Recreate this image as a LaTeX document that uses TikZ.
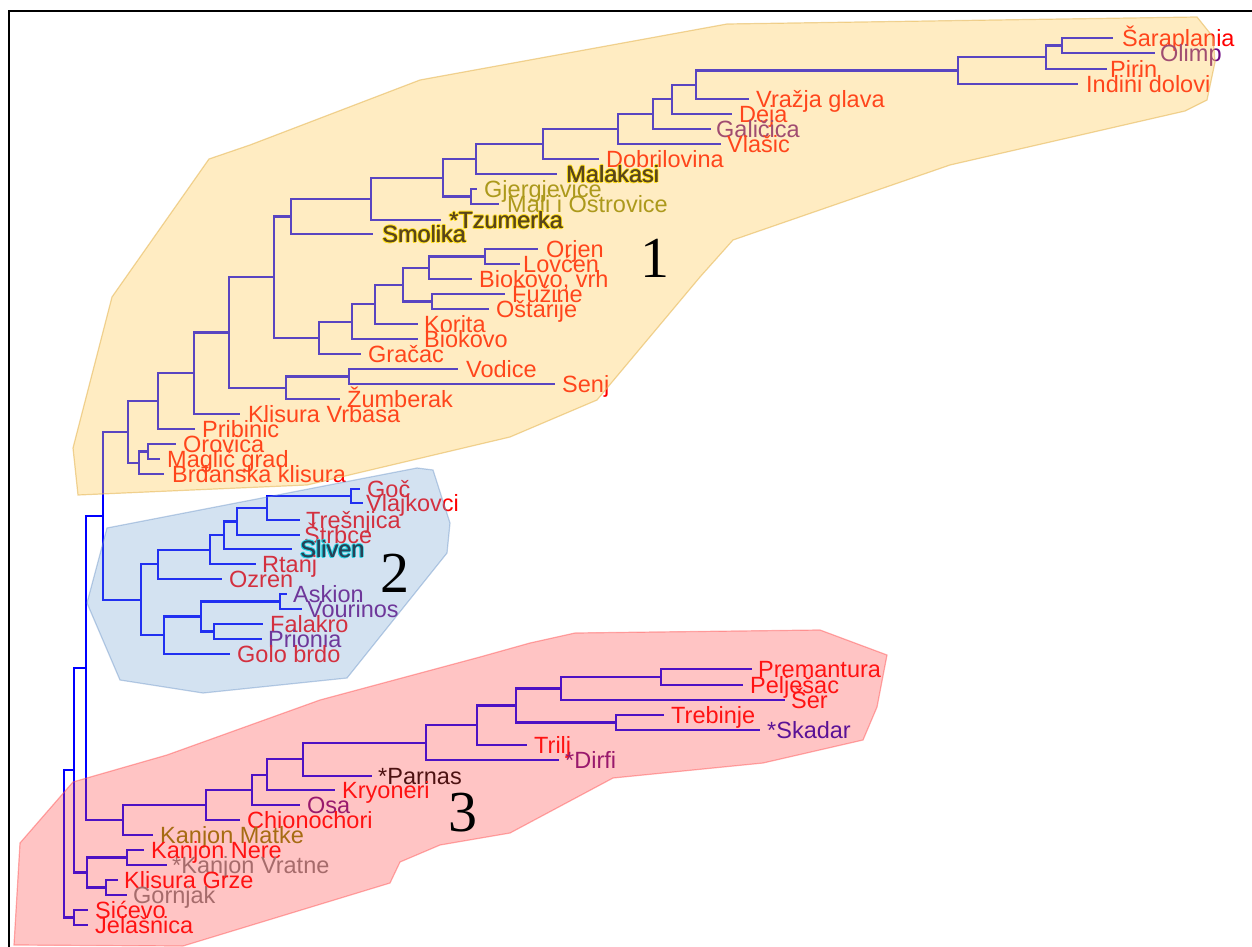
\documentclass[tikz,border=0pt]{standalone}
\usepackage{fontspec}
\setmainfont{Liberation Sans}
\newfontfamily\serifnum{Liberation Serif}
\usetikzlibrary{calc}
\definecolor{brblue}{RGB}{0,0,255}
\definecolor{cred}{RGB}{255,0,0}
\definecolor{cpur}{RGB}{110,10,130}
\definecolor{colive}{RGB}{128,128,0}
\definecolor{cgray}{RGB}{128,128,128}
\definecolor{cskad}{RGB}{20,0,190}
\definecolor{chy}{RGB}{255,235,0}
\definecolor{ccy}{RGB}{0,235,235}
\definecolor{cdark}{RGB}{10,25,35}
\definecolor{hy}{RGB}{255,200,80}
\definecolor{hyb}{RGB}{230,185,90}
\definecolor{hb}{RGB}{110,160,210}
\definecolor{hbb}{RGB}{110,150,200}
\definecolor{hr}{RGB}{255,60,60}
\definecolor{hrb}{RGB}{255,90,90}
\newcommand\leaf[6]{%
  \coordinate (#1) at (#2,#3);
  \node[lab,text=#5] (#1-l) at (#4,{#3+8.4}) {#6};}
\newcommand\haloleaf[7]{%
  \coordinate (#1) at (#2,#3);
  \foreach \dx/\dy [count=\k] in {-1.1/0,1.1/0,0/-1.1,0/1.1,-0.8/0.8,0.8/-0.8}{
    \node[lab,text=#5] (#1-h\k) at ({#4+\dx},{#3+8.4+\dy}) {#7};}
  \node[lab,text=#6] (#1-b) at ({#4+0.45},{#3+8.4}) {#7};
  \node[lab,text=#6] (#1-l) at (#4,{#3+8.4}) {#7};}
\newcommand\inode[3]{\coordinate (#1) at (#2,#3);}
\begin{document}
\begin{tikzpicture}[x=1pt,y=-1pt,
  br/.style={draw=brblue,line width=2.2pt},
  lab/.style={font=\fontsize{23.5}{24}\selectfont,inner sep=0pt,anchor=base west},
  bignum/.style={font=\serifnum\fontsize{58}{58}\selectfont,inner sep=0pt,text=black},
  hully/.style={fill=hy,fill opacity=0.35,draw=hyb,draw opacity=0.6,line width=1.2pt},
  hullb/.style={fill=hb,fill opacity=0.3,draw=hbb,draw opacity=0.45,line width=1.2pt},
  hullr/.style={fill=hr,fill opacity=0.3,draw=hrb,draw opacity=0.5,line width=1.2pt}]
\useasboundingbox (0,0) rectangle (1252,947);
% ---------- leaves: cluster 1
\leaf{sar}{1113}{38}{1122}{cred}{Šaraplania}
\leaf{oli}{1155}{53}{1160}{cpur}{Olimp}
\leaf{pir}{1107}{69}{1110}{cred}{Pirin}
\leaf{ind}{1078}{84}{1086}{cred}{Indini dolovi}
\leaf{vra}{749}{99}{756}{cred}{Vražja glava}
\leaf{dej}{732}{114}{739}{cred}{Deja}
\leaf{gal}{711}{129}{716}{cpur}{Galičica}
\leaf{vla}{721}{144}{727}{cred}{Vlašic}
\leaf{dob}{599}{159}{606}{cred}{Dobrilovina}
\haloleaf{mal}{557}{174}{566}{chy}{black}{Malakasi}
\leaf{gje}{477}{189}{484}{colive}{Gjergjevice}
\leaf{mali}{499}{204}{507}{colive}{Mali i Ostrovice}
\haloleaf{tzu}{441}{220}{449}{chy}{black}{*Tzumerka}
\haloleaf{smo}{373}{234}{382}{chy}{black}{Smolika}
\leaf{orj}{538}{249}{546}{cred}{Orjen}
\leaf{lov}{520}{264}{523}{cred}{Lovćen}
\leaf{bvr}{472}{279}{479}{cred}{Biokovo, vrh}
\leaf{fuz}{505}{294}{512}{cred}{Fužine}
\leaf{ost}{489}{309}{496}{cred}{Oštarije}
\leaf{kor}{418}{324}{424}{cred}{Korita}
\leaf{bio}{418}{339}{424}{cred}{Biokovo}
\leaf{gra}{361}{354}{368}{cred}{Gračac}
\leaf{vod}{458}{369}{466}{cred}{Vodice}
\leaf{sen}{555}{384}{562}{cred}{Senj}
\leaf{zum}{340}{399}{347}{cred}{Žumberak}
\leaf{kv}{240}{414}{248}{cred}{Klisura Vrbasa}
\leaf{pri}{195}{429}{202}{cred}{Pribinic}
\leaf{oro}{176}{444}{183}{cred}{Orovica}
\leaf{mag}{160}{459}{167}{cred}{Maglić grad}
\leaf{brd}{164}{474}{172}{cred}{Brđanska klisura}
% ---------- leaves: cluster 2
\leaf{goc}{360}{489}{367}{cred}{Goč}
\leaf{vlj}{363}{503}{366}{cred}{Vlajkovci}
\leaf{tre}{300}{520}{306}{cred}{Trešnjica}
\leaf{str}{300}{535}{304}{cred}{Štrbce}
\haloleaf{sli}{292}{549}{300}{ccy}{cdark}{Sliven}
\leaf{rta}{256}{564}{262}{cred}{Rtanj}
\leaf{ozr}{222}{579}{229}{cred}{Ozren}
\leaf{ask}{287}{594}{293}{cpur}{Askion}
\leaf{vou}{302}{609}{307}{cpur}{Vourinos}
\leaf{fal}{263}{624}{270}{cred}{Falakro}
\leaf{prio}{262}{639}{268}{cpur}{Prionia}
\leaf{gol}{230}{654}{237}{cred}{Golo brdo}
% ---------- leaves: cluster 3
\leaf{pre}{752}{669}{758}{cred}{Premantura}
\leaf{pel}{743}{685}{750}{cred}{Pelješac}
\leaf{ser}{785}{700}{791}{cred}{Šer}
\leaf{tre2}{664}{715}{671}{cred}{Trebinje}
\leaf{ska}{760}{730}{767}{cskad}{*Skadar}
\leaf{tri}{527}{745}{534}{cred}{Trilj}
\leaf{dir}{559}{760}{565}{cpur}{*Dirfi}
\leaf{par}{372}{776}{378}{black}{*Parnas}
\leaf{kry}{335}{790}{342}{cred}{Kryoneri}
\leaf{osa}{300}{805}{307}{cpur}{Osa}
\leaf{chi}{240}{820}{247}{cred}{Chionochori}
\leaf{km}{153}{835}{160}{colive}{Kanjon Matke}
\leaf{kn}{144}{850}{151}{cred}{Kanjon Nere}
\leaf{kvr}{167}{865}{172}{cgray}{*Kanjon Vratne}
\leaf{kg}{118}{880}{124}{cred}{Klisura Grze}
\leaf{gor}{127}{895}{133}{cgray}{Gornjak}
\leaf{sic}{88}{910}{95}{cred}{Sićevo}
\leaf{jel}{88}{925}{95}{cred}{Jelašnica}
% ---------- internal nodes
\inode{so}{1062}{45.5}\inode{sop}{1046}{57.25}\inode{sopi}{958}{70.6}
\inode{a1}{696}{84.8}\inode{a2}{672}{99.4}\inode{a3}{653}{114.2}
\inode{a4}{618}{129.1}\inode{a5}{543}{144}\inode{a6}{476}{159}
\inode{gm}{471}{196.5}\inode{a7}{443}{177.8}\inode{a8}{371}{198.9}
\inode{a9}{291}{216.5}\inode{ol}{485}{256.5}\inode{b1}{429}{267.8}
\inode{fo}{432}{301.5}\inode{b2}{403}{284.6}\inode{b3}{375}{304.3}
\inode{b4}{352}{321.7}\inode{b5}{319}{337.8}\inode{b6}{274}{277.1}
\inode{vs}{349}{376.5}\inode{b7}{286}{387.8}\inode{b8}{229}{332.5}
\inode{b9}{194}{373.2}\inode{b10}{158}{401.1}\inode{om}{148}{451.5}
\inode{omb}{139}{462.8}\inode{b11}{128}{431.9}
\inode{gv}{351}{496}\inode{c1}{267}{508}\inode{c2}{237}{521.5}
\inode{c3}{224}{535.2}\inode{c4}{210}{549.6}\inode{c5}{158}{564.3}
\inode{av}{280}{601.5}\inode{fp}{214}{631.5}\inode{c6}{201}{616.5}
\inode{c7}{164}{635.2}\inode{c8}{141}{599.8}\inode{r1}{103}{515.8}
\inode{pp}{661}{677}\inode{d1}{561}{688.5}\inode{ts}{616}{722.5}
\inode{d2}{516}{705.5}\inode{d3}{477}{725.2}\inode{d4}{426}{742.6}
\inode{d5}{303}{759.3}\inode{d6}{267}{774.7}\inode{d7}{252}{789.8}
\inode{d8}{206}{804.9}\inode{d9}{123}{820}\inode{r2}{86}{667.9}
\inode{kk}{127}{857.5}\inode{gg}{106}{887.5}\inode{e1}{87}{872.5}
\inode{r3}{74}{770.2}\inode{sj}{74}{917.5}\inode{root}{64}{843.9}
% ---------- branches
\foreach \p/\c in {so/sar,so/oli,sop/so,sop/pir,sopi/sop,sopi/ind,a1/sopi,a1/vra,
  a2/a1,a2/dej,a3/a2,a3/gal,a4/a3,a4/vla,a5/a4,a5/dob,a6/a5,a6/mal,gm/gje,gm/mali,
  a7/a6,a7/gm,a8/a7,a8/tzu,a9/a8,a9/smo,ol/orj,ol/lov,b1/ol,b1/bvr,fo/fuz,fo/ost,
  b2/b1,b2/fo,b3/b2,b3/kor,b4/b3,b4/bio,b5/b4,b5/gra,b6/a9,b6/b5,vs/vod,vs/sen,
  b7/vs,b7/zum,b8/b6,b8/b7,b9/b8,b9/kv,b10/b9,b10/pri,om/oro,om/mag,omb/om,omb/brd,
  b11/b10,b11/omb,
  gv/goc,gv/vlj,c1/gv,c1/tre,c2/c1,c2/str,c3/c2,c3/sli,c4/c3,c4/rta,c5/c4,c5/ozr,
  av/ask,av/vou,fp/fal,fp/prio,c6/av,c6/fp,c7/c6,c7/gol,c8/c5,c8/c7,r1/b11,r1/c8,
  pp/pre,pp/pel,d1/pp,d1/ser,ts/tre2,ts/ska,d2/d1,d2/ts,d3/d2,d3/tri,d4/d3,d4/dir,
  d5/d4,d5/par,d6/d5,d6/kry,d7/d6,d7/osa,d8/d7,d8/chi,d9/d8,d9/km,r2/r1,r2/d9,
  kk/kn,kk/kvr,gg/kg,gg/gor,e1/kk,e1/gg,r3/r2,r3/e1,sj/sic,sj/jel,root/r3,root/sj}
  {\draw[br] (\p) |- (\c);}
% ---------- hulls (translucent, over the tree)
\path[hully] (78,495) -- (73,448) -- (112,297) -- (209,159) -- (250,145) -- (420,80)
  -- (727,24) -- (1197,17) -- (1213,37) -- (1215,62) -- (1207,100) -- (1185,111)
  -- (950,165) -- (733,240) -- (700,277) -- (597,400) -- (510,437) -- (307,485) -- cycle;
\path[hullb] (107,528) -- (417,468) -- (433,470) -- (450,523) -- (447,553) -- (347,678)
  -- (203,693) -- (120,680) -- (87,603) -- cycle;
\path[hullr] (14,945) -- (20,843) -- (73,782) -- (167,755) -- (320,700) -- (480,657)
  -- (530,643) -- (575,633) -- (820,630) -- (887,655) -- (877,707) -- (863,740)
  -- (763,763) -- (613,778) -- (510,833) -- (440,845) -- (400,862) -- (390,883)
  -- (183,946) -- cycle;
% ---------- cluster numbers
\node[bignum] (n1) at (655,258) {1};
\node[bignum] (n2) at (395,573) {2};
\node[bignum] (n3) at (463,813) {3};
% ---------- frame
\draw[line width=1.6pt] (9,947) -- (9,11) -- (1252,11);
\end{tikzpicture}
\end{document}
